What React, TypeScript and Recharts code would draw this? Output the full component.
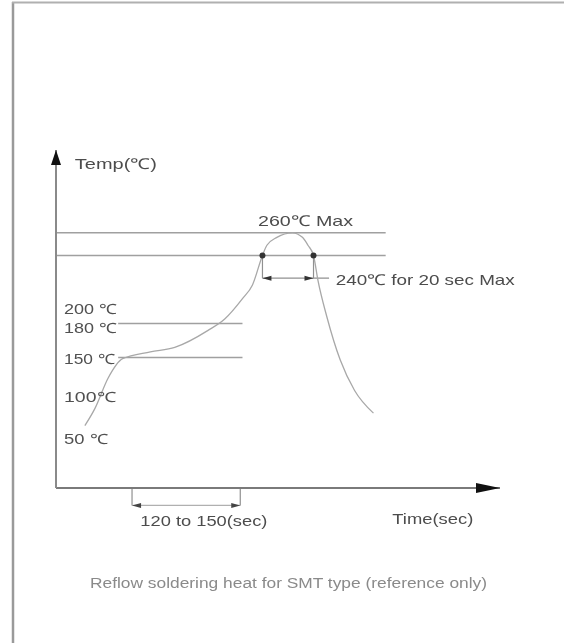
import React from 'react';
import { LineChart, Line, XAxis, YAxis, ReferenceLine, ReferenceDot } from 'recharts';

// Reflow profile (schematic)
const timeSec = [26, 35, 47, 60, 85, 107, 137, 152, 168, 177, 186, 190, 199, 213, 222, 227, 232, 236, 244, 256, 269, 286];
const tempC = [90, 105, 132, 149, 155, 159, 174, 184, 202, 214, 240, 249, 256, 260, 256, 249, 240, 218, 186, 148, 121, 101];

const yTickLabels = ['200 ℃', '180 ℃', '150 ℃', '100℃', '50 ℃'];
const yTickAt = [193, 176, 148.5, 115, 78];

const limitTemps = [260, 240];
const limitLineEnd = 297;
const soakTemps = [180, 150];
const soakRange = [56, 168];
const over240Times = [186, 232];
const over240Bracket = 220;
const over240BracketEnd = 246;
const preheatTimes = [68.5, 166];
const preheatBracket = 19.6;

const annTexts = ['Temp(℃)', '260℃ Max', '240℃ for 20 sec Max', '120 to 150(sec)', 'Time(sec)'];
const annTime = [17, 182, 252, 76, 303];
const annTemp = [321.5, 271, 219, 6.3, 8];
const caption = 'Reflow soldering heat for SMT type (reference only)';

const X_DOMAIN: [number, number] = [0, 400];
const Y_DOMAIN: [number, number] = [35, 333];

const data = timeSec.map((t, i) => ({ t, temp: tempC[i] }));

const FONT = '"Liberation Sans", Arial, sans-serif';
const annWidths = [82, 95, 179, 127, 81];
const tickWidths = [53, 53, 51, 52, 44];

const makeText = (text: string, w: number, size: number, color: string) => (p: any) => (
  <text
    x={p.cx}
    y={p.cy}
    dominantBaseline="central"
    textAnchor="start"
    fontFamily={FONT}
    fontSize={size}
    fill={color}
    textLength={w}
    lengthAdjust="spacingAndGlyphs"
  >
    {text}
  </text>
);

const makeArrow = (dir: 'up' | 'right' | 'left', len: number, half: number, color: string) => (p: any) => {
  const { cx, cy } = p;
  let pts = '';
  if (dir === 'up') pts = `${cx},${cy} ${cx - half},${cy + len} ${cx + half},${cy + len}`;
  if (dir === 'right') pts = `${cx},${cy} ${cx - len},${cy - half} ${cx - len},${cy + half}`;
  if (dir === 'left') pts = `${cx},${cy} ${cx + len},${cy - half} ${cx + len},${cy + half}`;
  return <polygon points={pts} fill={color} />;
};

const YTick = (p: any) => {
  const idx = yTickAt.indexOf(p.payload.value);
  if (idx < 0) return null;
  return (
    <text
      x={p.x + 8}
      y={p.y}
      dominantBaseline="central"
      textAnchor="start"
      fontFamily={FONT}
      fontSize={14}
      fill="#505050"
      textLength={tickWidths[idx]}
      lengthAdjust="spacingAndGlyphs"
    >
      {yTickLabels[idx]}
    </text>
  );
};

export default function App() {
  const lineColor = '#a0a0a0';
  const textColor = '#4c4c4c';
  return (
    <div style={{ position: 'absolute', left: 0, top: 0, width: 564, height: 643, background: '#fff', filter: 'blur(0.4px)' }}>
      <LineChart
        width={564}
        height={643}
        data={data}
        margin={{ top: 150, right: 64, bottom: 154, left: 55 }}
      >
        <XAxis
          type="number"
          dataKey="t"
          domain={X_DOMAIN}
          allowDataOverflow
          tick={false}
          tickLine={false}
          height={1}
          axisLine={{ stroke: '#7a7a7a', strokeWidth: 2 }}
        />
        <YAxis
          type="number"
          domain={Y_DOMAIN}
          allowDataOverflow
          ticks={yTickAt}
          interval={0}
          width={1}
          tickLine={false}
          tickSize={0}
          tickMargin={0}
          tick={<YTick />}
          axisLine={{ stroke: '#8a8a8a', strokeWidth: 2 }}
        />
        {limitTemps.map((v) => (
          <ReferenceLine
            key={'l' + v}
            segment={[{ x: X_DOMAIN[0], y: v }, { x: limitLineEnd, y: v }]}
            stroke={lineColor}
            strokeWidth={1.6}
            ifOverflow="visible"
          />
        ))}
        {soakTemps.map((v) => (
          <ReferenceLine
            key={'s' + v}
            segment={[{ x: soakRange[0], y: v }, { x: soakRange[1], y: v }]}
            stroke={lineColor}
            strokeWidth={1.6}
            ifOverflow="visible"
          />
        ))}
        {over240Times.map((t) => (
          <ReferenceLine
            key={'v' + t}
            segment={[{ x: t, y: limitTemps[1] }, { x: t, y: over240Bracket }]}
            stroke="#909090"
            strokeWidth={1.2}
            ifOverflow="visible"
          />
        ))}
        <ReferenceLine
          segment={[{ x: over240Times[0], y: over240Bracket }, { x: over240BracketEnd, y: over240Bracket }]}
          stroke="#909090"
          strokeWidth={1.2}
          ifOverflow="visible"
        />
        {preheatTimes.map((t) => (
          <ReferenceLine
            key={'p' + t}
            segment={[{ x: t, y: Y_DOMAIN[0] }, { x: t, y: preheatBracket }]}
            stroke="#909090"
            strokeWidth={1.2}
            ifOverflow="visible"
          />
        ))}
        <ReferenceLine
          segment={[{ x: preheatTimes[0], y: preheatBracket }, { x: preheatTimes[1], y: preheatBracket }]}
          stroke="#b0b0b0"
          strokeWidth={1.2}
          ifOverflow="visible"
        />
        <Line
          type="monotone"
          dataKey="temp"
          stroke="#a8a8a8"
          strokeWidth={1.3}
          dot={false}
          isAnimationActive={false}
        />
        {over240Times.map((t) => (
          <ReferenceDot key={'d' + t} x={t} y={limitTemps[1]} r={3} fill="#333" stroke="none" ifOverflow="visible" />
        ))}
        <ReferenceDot x={over240Times[0]} y={over240Bracket} ifOverflow="visible" shape={makeArrow('left', 9, 2.5, '#333')} />
        <ReferenceDot x={over240Times[1]} y={over240Bracket} ifOverflow="visible" shape={makeArrow('right', 9, 2.5, '#333')} />
        <ReferenceDot x={preheatTimes[0]} y={preheatBracket} ifOverflow="visible" shape={makeArrow('left', 9, 2.5, '#444')} />
        <ReferenceDot x={preheatTimes[1]} y={preheatBracket} ifOverflow="visible" shape={makeArrow('right', 9, 2.5, '#444')} />
        <ReferenceDot x={X_DOMAIN[0]} y={Y_DOMAIN[1]} ifOverflow="visible" shape={makeArrow('up', 15, 5, '#111')} />
        <ReferenceDot x={X_DOMAIN[1]} y={Y_DOMAIN[0]} ifOverflow="visible" shape={makeArrow('right', 24, 5, '#111')} />
        {annTexts.map((txt, i) => (
          <ReferenceDot
            key={'a' + i}
            x={annTime[i]}
            y={annTemp[i]}
            ifOverflow="visible"
            shape={makeText(txt, annWidths[i], 15, textColor)}
          />
        ))}
      </LineChart>
      <svg width={564} height={643} style={{ position: 'absolute', left: 0, top: 0, pointerEvents: 'none' }}>
        <line x1={13} y1={2} x2={13} y2={643} stroke="#9a9a9a" strokeWidth={2.5} />
        <line x1={12} y1={2.5} x2={564} y2={2.5} stroke="#b0b0b0" strokeWidth={2} />
        <text
          x={90}
          y={583}
          dominantBaseline="central"
          fontFamily={FONT}
          fontSize={14}
          fill="#8a8a8a"
          textLength={397}
          lengthAdjust="spacingAndGlyphs"
        >
          {caption}
        </text>
      </svg>
    </div>
  );
}
